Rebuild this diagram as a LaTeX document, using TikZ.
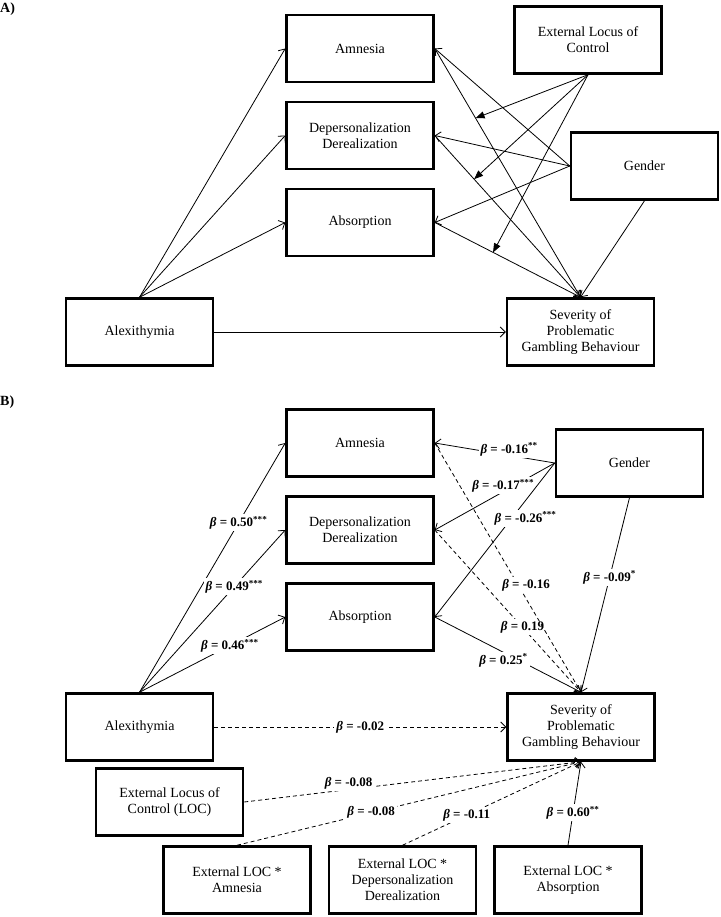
\documentclass[tikz,border=0pt]{standalone}
\usepackage{fontspec}
\setmainfont{Liberation Serif}
\usetikzlibrary{arrows.meta, positioning}
\tikzstyle{var}       = [rectangle, draw=black, line width=2.5pt, minimum width=147pt, minimum height=67pt,
                         align=center, font=\fontsize{14}{16}\selectfont]
\tikzstyle{arrow}     = [-{Straight Barb[length=5pt,width=10pt]}, line width=0.8pt]
\tikzstyle{dasharrow} = [arrow, dash pattern=on 4pt off 3pt]
\tikzstyle{modarrow}  = [-{Triangle[length=9pt,width=7pt]}, line width=0.8pt]
\tikzstyle{coef}      = [fill=white, inner sep=2pt, font=\fontsize{13}{15}\selectfont\bfseries]
\tikzstyle{panel}     = [anchor=west, inner sep=0pt, font=\fontsize{14}{16}\selectfont\bfseries]

\begin{document}
\begin{tikzpicture}[x=1pt, y=-1pt, node distance=17.5pt]
  \useasboundingbox (0,0) rectangle (720,917);

  % A) conceptual model
  \node (labA)  [panel] at (0,9) {A)};
  \node (amnA)  [var] at (360,48.5) {Amnesia};
  \node (depA)  [var, below=of amnA] {Depersonalization\\Derealization};
  \node (absA)  [var, below=of depA] {Absorption};
  \node (elocA) [var] at (588,40) {External Locus of\\Control};
  \node (genA)  [var] at (644.5,166) {Gender};
  \node (alexA) [var] at (139.5,332) {Alexithymia};
  \node (sevA)  [var] at (580.5,332) {Severity of\\Problematic\\Gambling Behaviour};

  \draw [arrow] (alexA.north) -- (amnA.west);
  \draw [arrow] (alexA.north) -- (depA.west);
  \draw [arrow] (alexA.north) -- (absA.west);
  \draw [arrow] (alexA) -- (sevA);
  \draw [arrow] (genA.west) -- (amnA.east);
  \draw [arrow] (genA.west) -- (depA.east);
  \draw [arrow] (genA.west) -- (absA.east);
  \draw [arrow] (amnA.east) -- coordinate[pos=0.28] (modA1) (sevA.north);
  \draw [arrow] (depA.east) -- coordinate[pos=0.27] (modA2) (sevA.north);
  \draw [arrow] (absA.east) -- coordinate[pos=0.4] (modA3) (sevA.north);
  \draw [arrow] (genA.south) -- (sevA.north);
  \draw [modarrow] (elocA.south) -- (modA1);
  \draw [modarrow] (elocA.south) -- (modA2);
  \draw [modarrow] (elocA.south) -- (modA3);

  % B) estimated model
  \node (labB)    [panel] at (0,402) {B)};
  \node (amnB)    [var] at (360,443) {Amnesia};
  \node (depB)    [var, below=of amnB] {Depersonalization\\Derealization};
  \node (absB)    [var, below=of depB] {Absorption};
  \node (genB)    [var] at (629.5,463) {Gender};
  \node (alexB)   [var] at (139.5,727) {Alexithymia};
  \node (sevB)    [var] at (581,727) {Severity of\\Problematic\\Gambling Behaviour};
  \node (locB)    [var] at (169.5,802) {External Locus of\\Control (LOC)};
  \node (locamnB) [var] at (237,880) {External LOC *\\Amnesia};
  \node (locdepB) [var, right=16pt of locamnB] {External LOC *\\Depersonalization\\Derealization};
  \node (locabsB) [var, right=16pt of locdepB] {External LOC *\\Absorption};

  \draw [arrow] (alexB.north) -- node[coef, pos=0.68] {\textit{β} = 0.50\textsuperscript{***}} (amnB.west);
  \draw [arrow] (alexB.north) -- node[coef, pos=0.65] {\textit{β} = 0.49\textsuperscript{***}} (depB.west);
  \draw [arrow] (alexB.north) -- node[coef, pos=0.62] {\textit{β} = 0.46\textsuperscript{***}} (absB.west);
  \draw [arrow] (genB.west) -- node[coef, pos=0.38, yshift=6pt] {\textit{β} = -0.16\textsuperscript{**}} (amnB.east);
  \draw [arrow] (genB.west) -- node[coef, pos=0.43, yshift=6pt] {\textit{β} = -0.17\textsuperscript{***}} (depB.east);
  \draw [arrow] (genB.west) -- node[coef, pos=0.36, xshift=14pt] {\textit{β} = -0.26\textsuperscript{***}} (absB.east);
  \draw [dasharrow] (depB.east) -- node[coef, pos=0.6] {\textit{β} = 0.19} (sevB.north);
  \draw [dasharrow] (amnB.east) -- node[coef, pos=0.57, xshift=8pt] {\textit{β} = -0.16} (sevB.north);
  \draw [arrow] (absB.east) -- node[coef, pos=0.47, yshift=-8pt] {\textit{β} = 0.25\textsuperscript{*}} (sevB.north);
  \draw [arrow] (genB.south) -- node[coef, pos=0.41] {\textit{β} = -0.09\textsuperscript{*}} (sevB.north);
  \draw [dasharrow] (alexB) -- node[coef] {\textit{β} = -0.02} (sevB);
  \draw [dasharrow] (locB.east) -- node[coef, pos=0.31, yshift=6pt] {\textit{β} = -0.08} (sevB.south);
  \draw [dasharrow] (locamnB.north) -- node[coef, pos=0.39] {\textit{β} = -0.08} (sevB.south);
  \draw [dasharrow] (locdepB.north) -- node[coef, pos=0.36] {\textit{β} = -0.11} (sevB.south);
  \draw [arrow] (locabsB.north) -- node[coef, pos=0.39] {\textit{β} = 0.60\textsuperscript{**}} (sevB.south);
\end{tikzpicture}
\end{document}
